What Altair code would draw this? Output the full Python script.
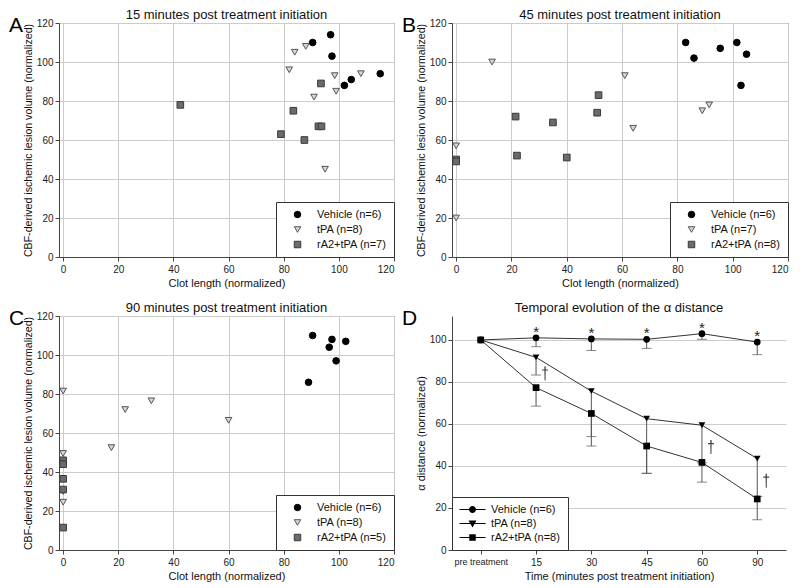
import altair as alt
import pandas as pd

FONT = "Liberation Sans"

# ---------------- Panel A (15 min) ----------------
a_veh_x = [90.5, 97, 97.5, 102, 104.5, 115]
a_veh_y = [110, 114, 103, 88, 91, 94]
a_tpa_x = [84, 88, 82, 98.5, 108, 99, 91, 95]
a_tpa_y = [105, 108, 96, 93, 94, 85, 82, 45]
a_ra2_x = [42.5, 93.5, 83.5, 92.6, 93.7, 79, 87.5]
a_ra2_y = [78, 89, 75, 67, 67, 63, 60]
a_labels = ["Vehicle (n=6)", "tPA (n=8)", "rA2+tPA (n=7)"]

# ---------------- Panel B (45 min) ----------------
b_veh_x = [83, 86, 95.5, 101.5, 105, 103]
b_veh_y = [110, 102, 107, 110, 104, 88]
b_tpa_x = [13, 0, 0, 61, 64, 89, 91.5]
b_tpa_y = [100, 57, 20, 93, 66, 75, 78]
b_ra2_x = [21.5, 22, 35, 40, 51, 51.5, 0, 0]
b_ra2_y = [72, 52, 69, 51, 74, 83, 50, 49]
b_labels = ["Vehicle (n=6)", "tPA (n=7)", "rA2+tPA (n=8)"]

# ---------------- Panel C (90 min) ----------------
c_veh_x = [90.5, 89, 96.5, 97.5, 99, 102.5]
c_veh_y = [110, 86, 104, 108, 97, 107]
c_tpa_x = [0, 22.5, 32, 17.5, 60, 0, 0, 0]
c_tpa_y = [81.5, 72, 76.5, 52.5, 66.5, 49.5, 30, 24.5]
c_ra2_x = [0, 0, 0, 0, 0]
c_ra2_y = [46, 44, 36.5, 31, 11.5]
c_labels = ["Vehicle (n=6)", "tPA (n=8)", "rA2+tPA (n=5)"]

# ---------------- Panel D (alpha distance) ----------------
times = ["pre treatment", "15", "30", "45", "60", "90"]
d_labels = ["Vehicle (n=6)", "tPA (n=8)", "rA2+tPA (n=8)"]
veh_mean = [100, 101, 100.5, 100.3, 103, 99]
veh_lower = [None, 96.8, 95, 96, 100.3, 93]
tpa_mean = [100, 91.7, 75.6, 62.5, 59.4, 43.5]
tpa_lower = [None, 83.3, 54, 36.5, 41.5, 25.5]
ra2_mean = [100, 77.3, 65, 49.5, 41.7, 24.3]
ra2_lower = [None, 68.5, 49.5, 36.5, 32.3, 14.4]
star_times = ["15", "30", "45", "60", "90"]
dagger_times = ["15", "60", "90"]
dagger_y = [84, 49, 33]

TICKS = [0, 20, 40, 60, 80, 100, 120]


def letter_layer(ch):
    return alt.Chart(pd.DataFrame({"t": [ch]})).mark_text(
        font=FONT, fontSize=21, align="left", baseline="alphabetic", color="#000"
    ).encode(text="t:N", x=alt.value(-50), y=alt.value(9))


def scatter(letter, title, vx, vy, tx, ty, rx, ry, labels):
    groups = [labels[0]] * len(vx) + [labels[1]] * len(tx) + [labels[2]] * len(rx)
    df = pd.DataFrame({"x": vx + tx + rx, "y": vy + ty + ry, "group": groups})
    leg = alt.Legend(
        title=None, orient="bottom-right", offset=0, padding=7,
        fillColor="white", strokeColor="#333", labelFont=FONT, labelFontSize=11,
        labelColor="#111", symbolSize=42, symbolOffset=9, labelOffset=14,
        rowPadding=3, symbolStrokeWidth=1,
    )
    pts = alt.Chart(df).mark_point(filled=True, opacity=1, strokeWidth=1, size=44).encode(
        x=alt.X("x:Q", scale=alt.Scale(domain=[-1.5, 120], nice=False, zero=False),
                axis=alt.Axis(values=TICKS, title="Clot length (normalized)")),
        y=alt.Y("y:Q", scale=alt.Scale(domain=[0, 120], nice=False),
                axis=alt.Axis(values=TICKS, title="CBF-derived ischemic lesion volume (normalized)",
                              titleFontSize=10.6)),
        shape=alt.Shape("group:N", scale=alt.Scale(domain=labels, range=["circle", "triangle-down", "square"]), legend=leg),
        fill=alt.Fill("group:N", scale=alt.Scale(domain=labels, range=["#000000", "#d6d6d6", "#6b6b6b"]), legend=leg),
        stroke=alt.Stroke("group:N", scale=alt.Scale(domain=labels, range=["#000000", "#555555", "#3a3a3a"]), legend=leg),
    )
    return alt.layer(pts, letter_layer(letter)).properties(
        width=335, height=234, title=title
    )


A = scatter("A", "15 minutes post treatment initiation", a_veh_x, a_veh_y, a_tpa_x, a_tpa_y, a_ra2_x, a_ra2_y, a_labels)
B = scatter("B", "45 minutes post treatment initiation", b_veh_x, b_veh_y, b_tpa_x, b_tpa_y, b_ra2_x, b_ra2_y, b_labels).properties(width=336)
C = scatter("C", "90 minutes post treatment initiation", c_veh_x, c_veh_y, c_tpa_x, c_tpa_y, c_ra2_x, c_ra2_y, c_labels)

rows = []
for g, means, lows in zip(d_labels, [veh_mean, tpa_mean, ra2_mean], [veh_lower, tpa_lower, ra2_lower]):
    for t, m, l in zip(times, means, lows):
        rows.append({"time": t, "group": g, "mean": m, "lower": l})
dfD = pd.DataFrame(rows)
dfStar = dfD[(dfD["group"] == d_labels[0]) & (dfD["time"].isin(star_times))]
dfDag = pd.DataFrame({"time": dagger_times, "y": dagger_y})

YT = "α distance (normalized)"
xD = alt.X("time:O", sort=times, scale=alt.Scale(type="point", padding=0.52),
           axis=alt.Axis(title="Time (minutes post treatment initiation)", labelAngle=0, grid=False,
                         labelFontSize={"condition": {"test": "datum.value === 'pre treatment'", "value": 9}, "value": 10}))
yD = alt.Y("mean:Q", scale=alt.Scale(domain=[0, 111.4], nice=False),
           axis=alt.Axis(values=[0, 20, 40, 60, 80, 100], grid=True), title=YT)

lines = alt.Chart(dfD).mark_line(color="#333", strokeWidth=1).encode(x=xD, y=yD, detail="group:N")
errs = alt.Chart(dfD).transform_filter("isValid(datum.lower)").mark_rule(color="#555", strokeWidth=1).encode(
    x=xD, y=alt.Y("mean:Q", title=YT), y2="lower:Q")
caps = alt.Chart(dfD).transform_filter("isValid(datum.lower)").mark_tick(color="#555", size=10, thickness=1).encode(
    x=xD, y=alt.Y("lower:Q", title=YT))
pointsD = alt.Chart(dfD).mark_point(filled=True, opacity=1, size=45, color="#000").encode(
    x=xD, y=yD,
    shape=alt.Shape("group:N", scale=alt.Scale(domain=d_labels, range=["circle", "triangle-down", "square"]), legend=None))
stars = alt.Chart(dfStar).mark_text(text="*", font=FONT, fontSize=15, baseline="alphabetic", dy=-1, color="#222").encode(
    x=xD, y=alt.Y("mean:Q", title=YT))
DAGGER = "M-0.1,-1H0.1L0.07,1H-0.07Z M-0.42,-0.58H0.42V-0.42H-0.42Z"
daggers = alt.Chart(dfDag).mark_point(filled=True, opacity=1, shape=DAGGER, size=196, xOffset=9, color="#444").encode(
    x=xD, y=alt.Y("y:Q", title=YT))

legend_paths = [
    "M-2.6,-0.1H2.6V0.1H-2.6ZM0.7,0A0.7,0.7,0,1,1,-0.7,0A0.7,0.7,0,1,1,0.7,0Z",
    "M-2.6,-0.1H2.6V0.1H-2.6ZM-0.8,-0.6H0.8L0,0.8Z",
    "M-2.6,-0.1H2.6V0.1H-2.6ZM-0.65,-0.65H0.65V0.65H-0.65Z",
]
legD = alt.Legend(
    title=None, orient="bottom-left", offset=0, padding=7,
    fillColor="white", strokeColor="#333", labelFont=FONT, labelFontSize=11,
    labelColor="#111", symbolSize=100, symbolOffset=8, labelOffset=13,
    rowPadding=2, symbolStrokeWidth=0, symbolOpacity=1,
    symbolFillColor="#000", symbolStrokeColor="#000",
)
legendLayer = alt.Chart(dfD).mark_point(filled=True, opacity=0, color="#000").encode(
    x=xD, y=yD,
    shape=alt.Shape("group:N", scale=alt.Scale(domain=d_labels, range=legend_paths), legend=legD))

D = alt.layer(lines, errs, caps, pointsD, stars, daggers, legendLayer, letter_layer("D")).resolve_scale(
    shape="independent").properties(
    width=334, height=234, title="Temporal evolution of the α distance",
    view=alt.ViewBackground(stroke="transparent"))

chart = alt.concat(A, B, C, D, columns=2, spacing={"row": 59, "column": 58}, bounds="flush").resolve_scale(
    shape="independent", fill="independent", stroke="independent", x="independent", y="independent"
).resolve_legend(shape="independent", fill="independent", stroke="independent").properties(
    padding={"left": 0, "top": 0, "right": 0, "bottom": 0}
).configure_view(stroke="#555").configure_axis(
    labelFont=FONT, titleFont=FONT, labelFontSize=10, titleFontSize=11,
    labelColor="#222", titleColor="#111", domainColor="#444", tickColor="#444",
    tickSize=4, gridColor="#cccccc", titleFontWeight="normal",
).configure_axisX(labelPadding=3, titlePadding=3).configure_axisY(labelPadding=2, titlePadding=3).configure_title(
    font=FONT, fontSize=13, fontWeight="normal", color="#111", offset=-7, frame="group", anchor="middle"
)

chart.save("out.html", embed_options={"renderer": "svg", "actions": False})
